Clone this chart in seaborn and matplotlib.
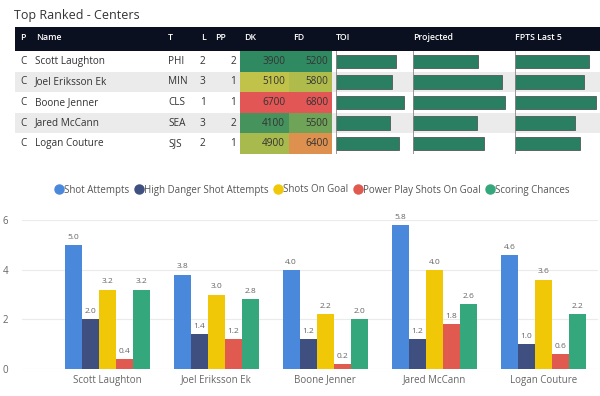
import numpy as np
import pandas as pd
import matplotlib
matplotlib.use('Agg')
import matplotlib.pyplot as plt
import seaborn as sns
from matplotlib.patches import Rectangle
from matplotlib.colors import LinearSegmentedColormap

# ---------------- data ----------------
positions = ['C', 'C', 'C', 'C', 'C']
names = ['Scott Laughton', 'Joel Eriksson Ek', 'Boone Jenner', 'Jared McCann', 'Logan Couture']
teams = ['PHI', 'MIN', 'CLS', 'SEA', 'SJS']
lines = [2, 3, 1, 3, 2]
pp_units = [2, 1, 1, 2, 1]
dk_salary = [3900, 5100, 6700, 4100, 4900]
fd_salary = [5200, 5800, 6800, 5500, 6400]
toi = [17.9, 16.7, 20.2, 16.1, 18.8]
projected = [10.6, 14.5, 15.0, 10.4, 11.6]
fpts_last5 = [12.2, 11.4, 13.4, 9.9, 10.7]

metrics = ['Shot Attempts', 'High Danger Shot Attempts', 'Shots On Goal',
           'Power Play Shots On Goal', 'Scoring Chances']
shot_attempts = [5.0, 3.8, 4.0, 5.8, 4.6]
hd_attempts = [2.0, 1.4, 1.2, 1.2, 1.0]
shots_on_goal = [3.2, 3.0, 2.2, 4.0, 3.6]
pp_shots = [0.4, 1.2, 0.2, 1.8, 0.6]
scoring_chances = [3.2, 2.8, 2.0, 2.6, 2.2]
colors = ['#4a88dc', '#3f4f80', '#f0c808', '#e05a50', '#35a77c']

plt.rcParams['font.family'] = ['Open Sans', 'DejaVu Sans']

W, H = 600, 396
fig = plt.figure(figsize=(W / 100, H / 100), dpi=100)


def rect(x, y, w, h):
    # pixel box (top-left origin) -> figure fraction
    return [x / W, 1 - (y + h) / H, w / W, h / H]


# ---------------- table ----------------
tab = fig.add_axes([0, 0, 1, 1])
tab.set_xlim(0, W)
tab.set_ylim(H, 0)
tab.axis('off')

tab.text(14, 15, 'Top Ranked - Centers', fontsize=9, color='#333333', va='center', ha='left')

row_top, row_h = 51, 20.6
tab.add_patch(Rectangle((15, 27), 585, 24, color='#0b1020', lw=0))
headers = [('P', 20), ('Name', 36), ('T', 168), ('L', 201), ('PP', 215), ('DK', 244),
           ('FD', 293), ('TOI', 336), ('Projected', 413), ('FPTS Last 5', 515)]
for txt, x in headers:
    tab.text(x, 37, txt, color='white', fontsize=6.3, fontweight='semibold', va='center', ha='left')

for i in range(len(names)):
    y0 = row_top + i * row_h
    yc = y0 + row_h / 2
    if i % 2 == 1:
        tab.add_patch(Rectangle((15, y0), 585, row_h, color='#ebebeb', lw=0))
    tab.text(20, yc, positions[i], fontsize=7.2, color='#333333', va='center')
    tab.text(35, yc, names[i], fontsize=7.2, color='#333333', va='center')
    tab.text(168, yc, teams[i], fontsize=7.2, color='#333333', va='center')
    tab.text(200, yc, str(lines[i]), fontsize=7.2, color='#333333', va='center')
    tab.text(236, yc, str(pp_units[i]), fontsize=7.2, color='#333333', va='center', ha='right')

cmap = LinearSegmentedColormap.from_list('gyr', ['#2f8a62', '#d9cc45', '#e25656'])
table_rows = row_h * len(names)
for vals, x0, w in [(dk_salary, 240, 49), (fd_salary, 289, 43)]:
    hax = fig.add_axes(rect(x0, row_top, w, table_rows))
    sns.heatmap(pd.DataFrame({'v': vals}), cmap=cmap, cbar=False, ax=hax,
                xticklabels=False, yticklabels=False)
    for i, v in enumerate(vals):
        hax.text(0.92, i + 0.5, str(v), ha='right', va='center', fontsize=7.2, color='#333333')
    hax.set_xlabel('')
    hax.set_ylabel('')

for vals, x0, w, xmax in [(toi, 336, 76, 22.6), (projected, 413, 100, 16.3), (fpts_last5, 515, 85, 14.0)]:
    bax = fig.add_axes(rect(x0, row_top, w, table_rows))
    bax.patch.set_alpha(0)
    bax.barh(range(len(vals)), vals, height=0.66, color='#2a7f62', edgecolor='#4d5a55', lw=0.6)
    bax.axvline(0, color='#888888', lw=0.6)
    bax.set_xlim(0, xmax)
    bax.set_ylim(len(vals) - 0.5, -0.5)
    bax.axis('off')

# ---------------- grouped bar chart ----------------
df = pd.DataFrame({
    'player': names * 5,
    'metric': np.repeat(metrics, len(names)),
    'value': shot_attempts + hd_attempts + shots_on_goal + pp_shots + scoring_chances,
})

ax = fig.add_axes(rect(22, 220, 576, 149))
sns.barplot(data=df, x='player', y='value', hue='metric', hue_order=metrics,
            palette=colors, saturation=1, width=0.78, ax=ax, legend=False)
ax.set_ylim(0, 6)
ax.set_xlim(-0.78, 4.5)
ax.set_yticks([0, 2, 4, 6])
ax.grid(axis='y', color='#ebebeb', lw=0.8)
ax.set_axisbelow(True)
for s in ax.spines.values():
    s.set_visible(False)
ax.tick_params(axis='both', length=0, labelsize=7, colors='#666666')
ax.tick_params(axis='y', pad=10)
ax.tick_params(axis='x', pad=4)
ax.set_xlabel('')
ax.set_ylabel('')
for c in ax.containers:
    ax.bar_label(c, fmt='%.1f', padding=3, fontsize=6, color='#666666')

handles = [plt.Line2D([], [], marker='o', ls='', color=c, markersize=6.5) for c in colors]
fig.legend(handles, metrics, loc='center', bbox_to_anchor=(0.52, 1 - 190 / H), ncol=5,
           frameon=False, fontsize=7, handletextpad=0.05, columnspacing=0.45,
           labelcolor='#555555', handlelength=1.0)

fig.savefig('out.png', dpi=100)
